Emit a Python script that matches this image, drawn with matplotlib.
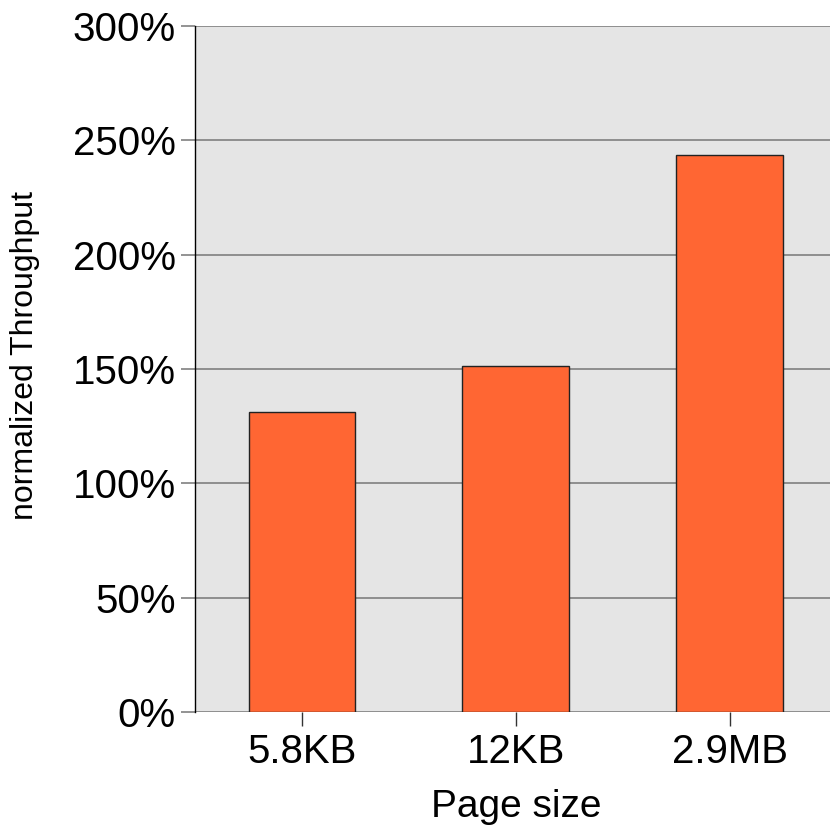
import numpy as np
import matplotlib
matplotlib.use('Agg')
import matplotlib.pyplot as plt
from matplotlib.ticker import FuncFormatter

plt.rcParams['font.family'] = ['Liberation Sans', 'DejaVu Sans']

pages = ['5.8KB', '12KB', '2.9MB']
throughput = [131, 151.5, 243.5]   # percent
yticks = [0, 50, 100, 150, 200, 250, 300]

fig = plt.figure(figsize=(8.3, 8.3), dpi=100)
ax = fig.add_axes([0.235, 0.142, 0.773, 0.827])
ax.set_facecolor('#e5e5e5')

x = np.arange(len(pages))
ax.bar(x, throughput, width=0.5, color='#ff6633', edgecolor='#222222',
       linewidth=1, zorder=3)

ax.set_xlim(-0.5, 2.5)
ax.set_ylim(0, 300)
ax.set_yticks(yticks)
ax.yaxis.set_major_formatter(FuncFormatter(lambda v, p: '%d%%' % v))
ax.grid(axis='y', color='#808080', linewidth=1.2, zorder=1)
ax.set_xticks(x)
ax.set_xticklabels(pages)

for s in ['top', 'right', 'bottom']:
    ax.spines[s].set_visible(False)
ax.spines['left'].set_color('black')
ax.spines['left'].set_linewidth(1)
ax.spines['left'].set_zorder(4)

ax.tick_params(axis='y', length=10, width=1.2, color='#808080',
               labelsize=29, pad=4)
ax.tick_params(axis='x', length=10, width=1, color='#333333',
               labelsize=29, pad=5)

ax.set_xlabel('Page size', fontsize=28, labelpad=13)
ax.set_ylabel('normalized Throughput', fontsize=23)
ax.yaxis.set_label_coords(-0.241, 0.52)

fig.savefig('out.png', dpi=100)
